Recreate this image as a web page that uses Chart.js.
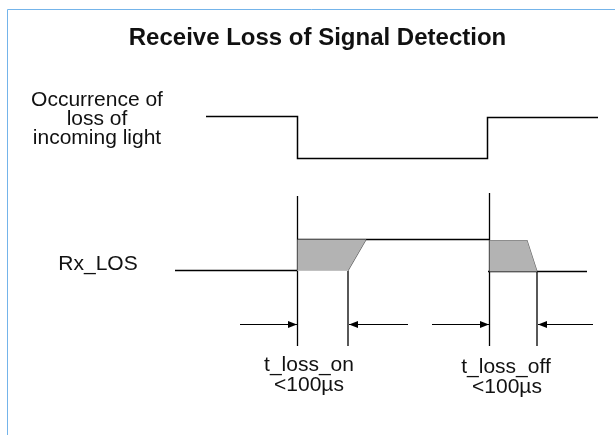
<!DOCTYPE html>
<html>
<head>
<meta charset="utf-8">
<script src="https://cdn.jsdelivr.net/npm/chart.js@4.4.0/dist/chart.umd.min.js"></script>
<style>
html, body { margin: 0; padding: 0; background: #fff; }
#wrap { position: relative; width: 615px; height: 435px; }
</style>
</head>
<body>
<div id="wrap"><canvas id="diagram"></canvas></div>
<script>
// unités du schéma : x = temps, y = position verticale (0 en haut)
const titre = 'Receive Loss of Signal Detection';
const lightLabel = ['Occurrence of', 'loss of', 'incoming light'];
const losLabel = 'Rx_LOS';
const onLabel = ['t_loss_on', '<100\u00b5s'];
const offLabel = ['t_loss_off', '<100\u00b5s'];

// signal lumière
const lightT = [206, 297.5, 297.5, 487.5, 487.5, 598];
const lightY = [116.5, 116.5, 158.5, 158.5, 117.5, 117.5];

// Rx_LOS
const losLowT = [175, 297.5];
const losLowY = [270.5, 270.5];
const losHighT = [297.5, 489.5];
const losHighY = [239.5, 239.5];
const losEndT = [488, 587];
const losEndY = [271.5, 271.5];

// zones grises (trapèzes)
const zoneOnT = [297.5, 366, 348, 297.5];
const zoneOnY = [239.5, 239.5, 270.5, 270.5];
const zoneOffT = [489.5, 527, 537, 489.5];
const zoneOffY = [240.5, 240.5, 271.5, 271.5];

// repères verticaux
const markT = [297.5, 348, 489.5, 537];
const markTop = [196, 270.5, 193, 271.5];
const markBottom = [346, 346, 346, 346];

// flèches (départ -> pointe)
const arrowFrom = [240, 408, 432, 593];
const arrowTo = [297, 349, 489, 538];
const arrowY = [324.5, 324.5, 324.5, 324.5];

// cadre
const frameT = [7.5, 7.5, 615];
const frameY = [435, 9.5, 9.5];

function pts(t, y) {
  return t.map((v, i) => ({ x: v, y: y[i] }));
}

function ligne(data, color, width) {
  return {
    data: data,
    showLine: true,
    borderColor: color,
    borderWidth: width,
    pointRadius: 0,
    fill: false,
    tension: 0
  };
}

function zone(data) {
  return {
    data: data,
    showLine: true,
    borderWidth: 0,
    borderColor: '#b3b3b3',
    backgroundColor: '#b3b3b3',
    pointRadius: 0,
    fill: 'shape',
    tension: 0
  };
}

const datasets = [];
datasets.push(zone(pts(zoneOnT, zoneOnY)));
datasets.push(zone(pts(zoneOffT, zoneOffY)));
datasets.push(ligne(pts(frameT, frameY), '#74b4ea', 1));
// bords des zones grises
datasets.push(ligne(pts([zoneOnT[0], zoneOnT[2]], [zoneOnY[2], zoneOnY[2]]), '#cfcfcf', 1));
datasets.push(ligne(pts([zoneOnT[2], zoneOnT[1]], [zoneOnY[2], zoneOnY[1]]), '#555', 1.2));
datasets.push(ligne(pts([zoneOffT[0], zoneOffT[1], zoneOffT[2]], [zoneOffY[0], zoneOffY[1], zoneOffY[2]]), '#666', 1.2));
// signaux
datasets.push(ligne(pts(lightT, lightY), '#000', 1.5));
datasets.push(ligne(pts(losLowT, losLowY), '#000', 1.5));
datasets.push(ligne(pts([losHighT[0], zoneOnT[1], losHighT[1]], [losHighY[0], losHighY[0], losHighY[1]]), '#000', 1.5));
datasets.push(ligne(pts(losEndT, losEndY), '#000', 1.5));
for (let i = 0; i < markT.length; i++) {
  datasets.push(ligne(pts([markT[i], markT[i]], [markTop[i], markBottom[i]]), '#000', 1.3));
}
for (let i = 0; i < arrowFrom.length; i++) {
  datasets.push(ligne(pts([arrowFrom[i], arrowTo[i]], [arrowY[i], arrowY[i]]), '#000', 1.2));
}

// pointes de flèches + textes
const decor = {
  id: 'decor',
  afterDatasetsDraw(chart) {
    const ctx = chart.ctx;
    const x = chart.scales.x;
    const y = chart.scales.y;
    ctx.save();
    ctx.fillStyle = '#000';
    for (let i = 0; i < arrowFrom.length; i++) {
      const px = x.getPixelForValue(arrowTo[i]);
      const py = y.getPixelForValue(arrowY[i]);
      const dir = arrowTo[i] > arrowFrom[i] ? 1 : -1;
      ctx.beginPath();
      ctx.moveTo(px, py);
      ctx.lineTo(px - dir * 9, py - 3.5);
      ctx.lineTo(px - dir * 9, py + 3.5);
      ctx.closePath();
      ctx.fill();
    }
    ctx.textAlign = 'center';
    ctx.textBaseline = 'alphabetic';
    ctx.fillStyle = '#111';
    ctx.font = 'bold 24px "Liberation Sans", Arial, sans-serif';
    ctx.fillText(titre, x.getPixelForValue(317.5), y.getPixelForValue(45));
    ctx.font = '21px "Liberation Sans", Arial, sans-serif';
    const lb = [106, 125, 144];
    lightLabel.forEach((t, i) => ctx.fillText(t, x.getPixelForValue(97), y.getPixelForValue(lb[i])));
    ctx.fillText(losLabel, x.getPixelForValue(98), y.getPixelForValue(270));
    ctx.fillText(onLabel[0], x.getPixelForValue(309), y.getPixelForValue(371));
    ctx.fillText(onLabel[1], x.getPixelForValue(309), y.getPixelForValue(391));
    ctx.fillText(offLabel[0], x.getPixelForValue(506), y.getPixelForValue(373));
    ctx.fillText(offLabel[1], x.getPixelForValue(507), y.getPixelForValue(393));
    ctx.restore();
  }
};

new Chart(document.getElementById('diagram'), {
  type: 'scatter',
  data: { datasets: datasets },
  options: {
    responsive: true,
    maintainAspectRatio: false,
    animation: false,
    layout: { padding: 0 },
    plugins: {
      legend: { display: false },
      tooltip: { enabled: false },
      title: { display: false }
    },
    scales: {
      x: { type: 'linear', min: 0, max: 615, display: false },
      y: { type: 'linear', min: 0, max: 435, reverse: true, display: false }
    }
  },
  plugins: [decor]
});
</script>
</body>
</html>
